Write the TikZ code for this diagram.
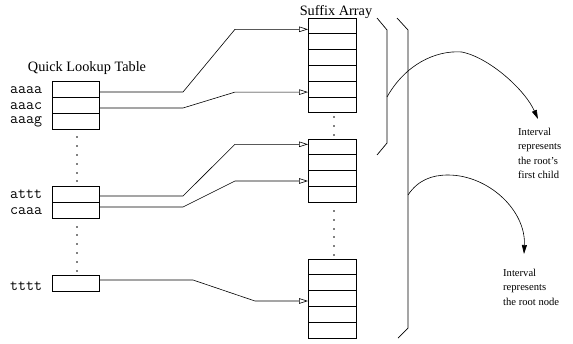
\documentclass[tikz,border=0pt]{standalone}
\usepackage{fontspec}
\setmainfont{Liberation Serif}
\usetikzlibrary{arrows.meta}

\begin{document}
\begin{tikzpicture}[x=1pt, y=-1pt,
  cellbox/.style={draw, line width=0.7pt, inner sep=0pt, outer sep=0pt,
                  minimum height=15.8pt},
  lookcell/.style={cellbox, minimum width=47pt},
  sufcell/.style={cellbox, minimum width=48pt},
  keylabel/.style={font=\ttfamily\fontsize{15.5}{17}\selectfont, anchor=base west, inner sep=0pt},
  title/.style={font=\fontsize{14.3}{17}\selectfont, anchor=base, inner sep=0pt},
  note/.style={font=\fontsize{10.6}{14.5}\selectfont, align=left, anchor=north west, inner sep=0pt},
  link/.style={line width=0.6pt, -{Triangle[open, length=9pt, width=5.5pt]}},
  brace/.style={line width=0.7pt},
  pointer/.style={line width=0.6pt, -{Triangle[length=9pt, width=5pt]}},
  dot/.style={fill=black}
]
\useasboundingbox (0,0) rectangle (573,343);

% ---- quick lookup table ----
\node[title] (qlt) at (87,71) {Quick Lookup Table};
\node[lookcell] (qa) at (75.5,89)  {};
\node[lookcell] (qb) at (75.5,105) {};
\node[lookcell] (qc) at (75.5,121) {};
\node[lookcell] (qd) at (75.5,194) {};
\node[lookcell] (qe) at (75.5,210) {};
\node[lookcell] (qf) at (75.5,283) {};

\node[keylabel] (ka) at (10,93)  {aaaa};
\node[keylabel] (kb) at (10,109) {aaac};
\node[keylabel] (kc) at (10,123) {aaag};
\node[keylabel] (kd) at (10,198) {attt};
\node[keylabel] (ke) at (10,214) {caaa};
\node[keylabel] (kf) at (10,290) {tttt};

\foreach \y in {137,146,155,164,173,181,227,235,244,253,262,271}
  \fill[dot] (77,\y) circle (0.8pt);

% ---- suffix array ----
\node[title] (sat) at (336,15) {Suffix Array};
\foreach \r in {1,...,6}
  \node[sufcell] (s1-\r) at (332,{18+7.9+(\r-1)*15.8}) {};
\foreach \r in {1,...,4}
  \node[sufcell] (s2-\r) at (332,{139+7.9+(\r-1)*15.8}) {};
\foreach \r in {1,...,5}
  \node[sufcell] (s3-\r) at (332,{259+7.9+(\r-1)*15.8}) {};

\foreach \y in {117,126,135,211,220,229,237,246,255}
  \fill[dot] (334,\y) circle (0.8pt);

% ---- pointers from the table into the array ----
\draw[link] ([yshift=-3pt]qa.east) -- ++(84,0)
  -- ([xshift=-73pt, yshift=-3.4pt]s1-1.west) -- ([yshift=-3.4pt]s1-1.west);
\draw[link] ([yshift=-3pt]qb.east) -- ++(84,0)
  -- ([xshift=-73pt, yshift=-3pt]s1-5.west) -- ([yshift=-3pt]s1-5.west);
\draw[link] ([yshift=-2pt]qd.east) -- ++(84,0)
  -- ([xshift=-73pt, yshift=2.6pt]s2-1.west) -- ([yshift=2.6pt]s2-1.west);
\draw[link] ([yshift=3pt]qe.east) -- ++(84,0)
  -- ([xshift=-73pt, yshift=-2.5pt]s2-3.west) -- ([yshift=-2.5pt]s2-3.west);
\draw[link] ([yshift=3pt]qf.east) -- ++(94,0)
  -- ([xshift=-53pt, yshift=-2.5pt]s3-3.west) -- ([yshift=-2.5pt]s3-3.west);

% ---- interval brackets ----
\draw[brace] (377,18) -- (387,30) -- (387,143) -- (377,155);
\draw[brace] (397,18) -- (408,30) -- (408,328) -- (398,338);
\coordinate (childstart) at (387,97);
\coordinate (childtop)   at (462,52);
\coordinate (rootstart)  at (408,195);
\coordinate (roottop)    at (448,175);

% ---- notes ----
\node[note] (nchild) at (518,127.5) {Interval\\represents\\the root's\\first child};
\node[note] (nroot)  at (503,268.5) {Interval\\represents\\the root node};

\draw[pointer] (childstart) .. controls (405,65) and (435,50) .. (childtop)
  .. controls (490,58) and (525,90) .. ([xshift=20pt, yshift=8.5pt]nchild.north west);
\draw[pointer] (rootstart) .. controls (418,180) and (432,175) .. (roottop)
  .. controls (488,175) and (526,210) .. ([xshift=21pt, yshift=14.5pt]nroot.north west);
\end{tikzpicture}
\end{document}
